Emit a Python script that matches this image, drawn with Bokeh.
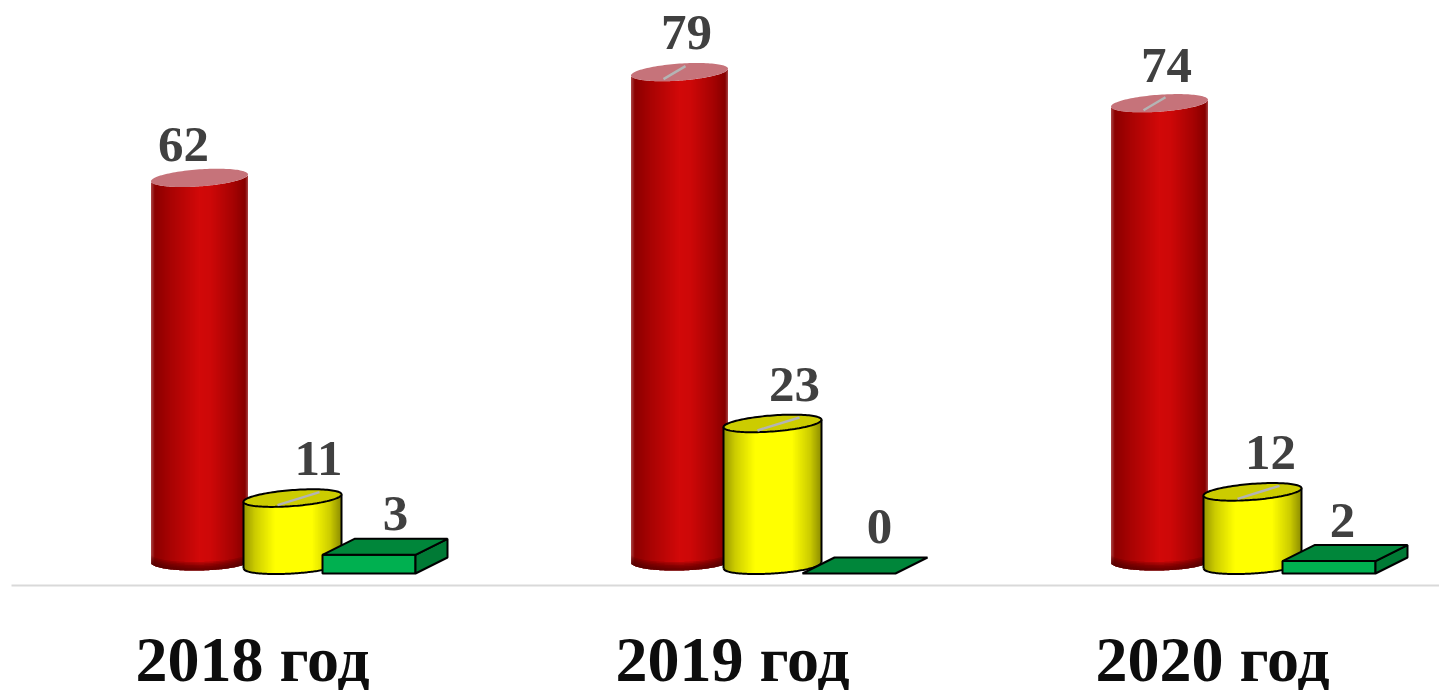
import numpy as np
from bokeh.embed import file_html
from bokeh.resources import INLINE
from bokeh.plotting import figure
from bokeh.models import LinearAxis, FixedTicker, Range1d
from bokeh.core.properties import value

years = ["2018 год", "2019 год", "2020 год"]
red_values = [62, 79, 74]
yellow_values = [11, 23, 12]
green_values = [3, 0, 2]

# layout constants
W, H = 1439, 690
PX_GROUP = 480.0      # px per category
PX_UNIT = 6.22        # px per value unit
X0, Y0 = 252, 564.5   # frame px of group 0 and of value 0
SERIF = "Liberation Serif"

x_start = -X0 / PX_GROUP
x_end = (W - X0) / PX_GROUP
y_end = Y0 / PX_UNIT
y_start = -(H - Y0) / PX_UNIT

p = figure(width=W, height=H, output_backend="svg", toolbar_location=None,
           x_range=Range1d(x_start, x_end), y_range=Range1d(y_start, y_end),
           min_border=0, outline_line_color=None, x_axis_type=None, y_axis_type=None)
p.grid.visible = False
p.background_fill_color = "white"

def dx(px): return px / PX_GROUP
def dy(px): return px / PX_UNIT

def lerp_colors(stops, t):
    ts = [s[0] for s in stops]
    out = []
    for c in range(3):
        out.append(np.interp(t, ts, [s[1][c] for s in stops]))
    return ["#%02x%02x%02x" % (int(r), int(g), int(b)) for r, g, b in zip(*out)]

RED = [(0, (170, 70, 70)), (.04, (140, 0, 0)), (.2, (168, 3, 3)), (.5, (210, 9, 9)), (.62, (205, 8, 8)),
       (.85, (165, 3, 3)), (.97, (135, 0, 0)), (1, (170, 70, 70))]
YEL = [(0, (150, 150, 0)), (.12, (205, 205, 0)), (.32, (255, 255, 0)), (.7, (255, 255, 0)),
       (.88, (205, 205, 0)), (1, (140, 140, 0))]

def cylinder(i, val, cx_px, base_bot, base_top, a, b, s_bot, s_top, stops):
    n = int(2 * a)
    edges = np.linspace(-a, a, n + 1)
    mid = (edges[:-1] + edges[1:]) / 2
    u = mid / a
    arc = b * np.sqrt(np.clip(1 - u ** 2, 0, 1))
    cols = lerp_colors(stops, (u + 1) / 2)
    gx = i + dx(cx_px)
    left = gx + dx(edges[:-1])
    right = gx + dx(np.minimum(edges[1:] + 0.6, a))
    bottom = dy(base_bot + s_bot * mid - arc)
    top = val + dy(base_top + s_top * mid - arc)
    p.quad(left=left, right=right, bottom=bottom, top=top, fill_color=cols, line_color=None)
    t = np.linspace(0, 2 * np.pi, 121)
    ex = a * np.cos(t)
    ey = s_top * ex + b * np.sin(t)
    return gx, ex, ey, left, right, bottom

# red cylinders
RA, RB, RS, RSB = 48.5, 8.5, 0.07, 0.02
for i, v in enumerate(red_values):
    gx, ex, ey, left, right, bottom = cylinder(i, v, -53, 3, 1.5, RA, RB, RSB, RS, RED)
    # darker, soft rim at the foot
    for k in range(6):
        p.quad(left=left, right=right, bottom=bottom, top=bottom + dy(1 + k * 1.5),
               fill_color="#500000", fill_alpha=0.14, line_color=None)
    p.patch(gx + dx(ex), v + dy(1.5 + ey), fill_color="#c6737a", line_color=None)

# yellow cylinders
YA, YB, YS, YSB = 49, 8, 0.075, 0.06
for i, v in enumerate(yellow_values):
    gx, ex, ey, left, right, bottom = cylinder(i, v, 40, -0.5, -1.5, YA, YB, YSB, YS, YEL)
    fx = np.linspace(-YA, YA, 81)
    fy = YSB * fx - YB * np.sqrt(1 - (fx / YA) ** 2) - 0.5
    p.line(gx + dx(fx), dy(fy), line_color="black", line_width=2)
    for sgn in (-1, 1):
        p.line([gx + dx(sgn * YA)] * 2, [dy(YSB * sgn * YA - 0.5), v + dy(YS * sgn * YA - 1.5)],
               line_color="black", line_width=2)
    p.patch(gx + dx(ex), v + dy(-1.5 + ey), fill_color="#cccc00", line_color="black", line_width=2)

# leader lines on the top faces
for i, v in enumerate(yellow_values):
    p.line([i + dx(40 - 15), i + dx(40 + 27)], [v + dy(-1.5 - 7), v + dy(-1.5 + 6)],
           line_color="#b4b4b4", line_width=2.5)
for i, v in enumerate(red_values):
    if i > 0:
        p.line([i + dx(-53 - 16), i + dx(-53 + 6)], [v + dy(1.5 - 7), v + dy(1.5 + 6)],
               line_color="#b4b4b4", line_width=2.5)

# green boxes
BW, DX, DY = 93, 32, 16
for i, v in enumerate(green_values):
    gx = i + dx(70)
    base = dy(-8.5)
    xs = lambda *o: [gx + dx(k) for k in o]
    if v > 0:
        p.patch(xs(0, BW, BW, 0), [base, base, base + v, base + v],
                fill_color="#00b050", line_color="black", line_width=2)
        p.patch(xs(BW, BW + DX, BW + DX, BW),
                [base, base + dy(DY), base + v + dy(DY), base + v],
                fill_color="#007a35", line_color="black", line_width=2)
    p.patch(xs(0, BW, BW + DX, DX), [base + v, base + v, base + v + dy(DY), base + v + dy(DY)],
            fill_color="#00863a", line_color="black", line_width=2)

# value labels: offsets from the mark's top, px
red_dx, red_up = [-69, -46, -46], [33, 40, 38]
yel_dx, yel_up = [66, 62, 58], [40, 39, 39]
grn_dx, grn_up = [143, 147, 130], [41, 47, 41]
def labels(vals, xo, up, lift):
    for i, v in enumerate(vals):
        p.text([i + dx(xo[i])], [v + dy(lift)], text=[str(v)], text_align="center",
               text_baseline="alphabetic", y_offset=-up[i], text_color="#404040",
               text_font=value(SERIF), text_font_style="bold", text_font_size="51px")
labels(red_values, red_dx, red_up, 1.5)
labels(yellow_values, yel_dx, yel_up, -1.5)
labels(green_values, grn_dx, grn_up, -8.5)

# category axis
ax = LinearAxis(fixed_location=-(585 - Y0) / PX_UNIT, ticker=FixedTicker(ticks=list(range(len(years)))),
                major_label_overrides={i: y for i, y in enumerate(years)},
                bounds=(x_start + dx(11), x_end),
                major_tick_line_color=None, minor_tick_line_color=None,
                axis_line_color="#d9d9d9", axis_line_width=2,
                major_label_standoff=32, major_label_text_color="#0d0d0d",
                major_label_text_font=SERIF, major_label_text_font_style="bold",
                major_label_text_font_size="64px")
p.add_layout(ax, "below")

open("out.html", "w").write(file_html(p, INLINE))
